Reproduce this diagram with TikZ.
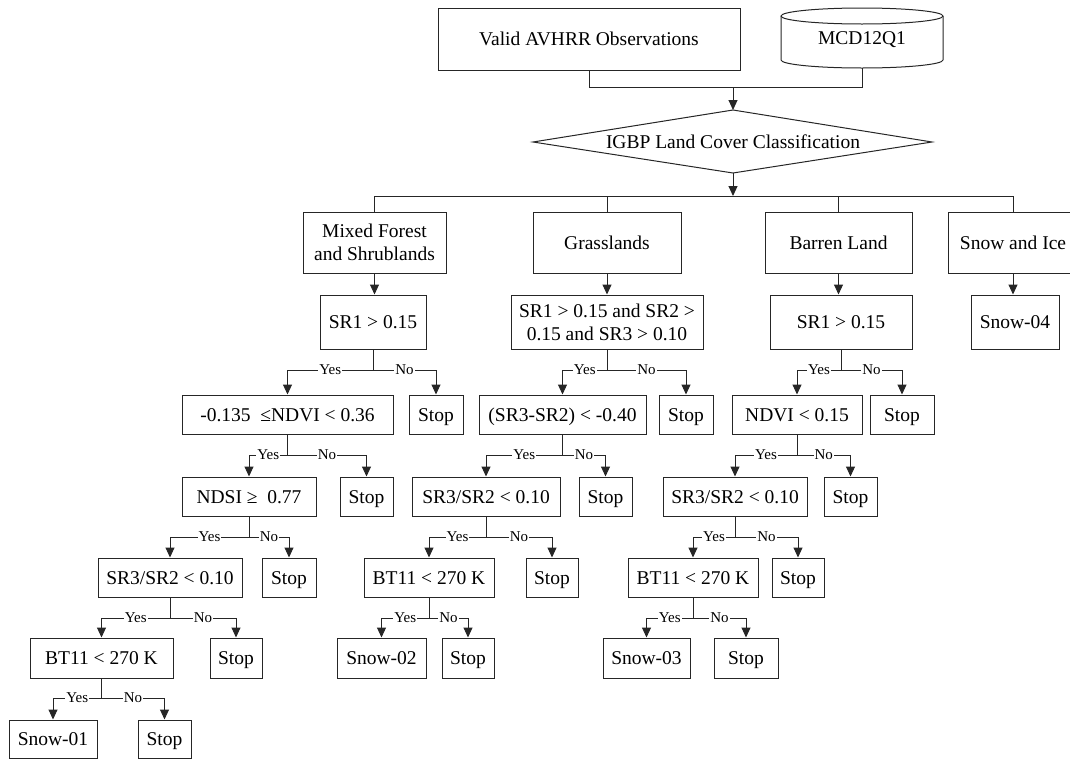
\documentclass[tikz,border=0pt]{standalone}
\usepackage{fontspec}
\setmainfont{Liberation Serif}
\usetikzlibrary{arrows.meta}
\newcommand\mkbox[6]{\node[box, minimum width=#4, minimum height=#5] (#1) at (#2,#3) {#6};}
\newcommand\ynsplit[4]{%
  \draw[ln] (#1.south) -- (#1.south |- 0,#4);
  \draw[ln,arr] (#1.south |- 0,#4) -| node[pos=0.25,yn]{Yes} (#2.north);
  \draw[ln,arr] (#1.south |- 0,#4) -| node[pos=0.25,yn]{No} (#3.north);
}
\begin{document}
\begin{tikzpicture}[x=1pt,y=-1pt,
  ln/.style={line width=1pt, draw=black!85},
  txt/.style={font=\fontsize{19.5}{23}\selectfont},
  box/.style={draw=black!85, line width=1pt, rectangle, inner sep=2pt, txt, align=center, text height=13pt, text depth=0pt},
  twoline/.style={text height=, text depth=},
  yn/.style={fill=white, inner sep=1pt, font=\fontsize{15}{15}\selectfont},
  arr/.style={-{Triangle[length=10pt,width=9pt]}}
]
\useasboundingbox (0,0) rectangle (1070,758);
% top
\mkbox{valid}{589}{39}{302}{62}{Valid AVHRR Observations}
\node[minimum width=162, minimum height=60, inner sep=0pt, txt, text height=13pt, text depth=0pt] (mcd) at (862,38) {MCD12Q1};
\draw[ln] (781,16) -- (781,60) arc[start angle=180, end angle=360, x radius=81pt, y radius=8pt] -- (943,16);
\draw[ln] (862,16) ellipse [x radius=81pt, y radius=8pt];
% diamond
\coordinate (igbpT) at (733,110);
\coordinate (igbpB) at (733,173);
\coordinate (igbpL) at (533,142);
\coordinate (igbpR) at (932,142);
\draw[ln] (igbpL) -- (igbpT) -- (igbpR) -- (igbpB) -- cycle;
\node[txt, inner sep=0pt, text height=13pt, text depth=0pt] (igbp) at (733,142) {IGBP Land Cover Classification};
\coordinate (join) at (733,87);
\draw[ln] (valid.south) -- (valid.south |- join) -| (mcd.south);
\draw[ln,arr] (join) -- (igbpT);
\coordinate (bus) at (733,196);
\draw[ln,arr] (igbpB) -- (bus);
% categories
\node[box, twoline, minimum width=143, minimum height=61] (mf) at (374.5,242.5) {Mixed Forest\\and Shrublands};
\mkbox{gr}{607}{242.5}{148}{61}{Grasslands}
\mkbox{bl}{838.5}{242.5}{147}{61}{Barren Land}
\mkbox{si}{1013}{242.5}{130}{61}{Snow and Ice}
\draw[ln] (mf.north) -- (mf.north |- bus) -- (si.north |- bus) -- (si.north);
\draw[ln] (gr.north |- bus) -- (gr.north);
\draw[ln] (bl.north |- bus) -- (bl.north);
% level 2
\mkbox{mfa}{373}{322}{106}{54}{SR1 {>} 0.15}
\node[box, twoline, minimum width=192, minimum height=54] (gra) at (607,322) {SR1 {>} 0.15 and SR2 {>}\\0.15 and SR3 {>} 0.10};
\mkbox{bla}{841}{322}{142}{54}{SR1 {>} 0.15}
\mkbox{sia}{1015}{322}{88}{54}{Snow-04}
\foreach \p/\c in {mf/mfa, gr/gra, bl/bla, si/sia}{
  \draw[ln,arr] (\p.south) -- (\p.south |- \c.north);
}
% level 3
\mkbox{mfb}{287.5}{414.5}{211}{39}{-0.135 \ ≤NDVI {<} 0.36}
\mkbox{mfbs}{436}{414.5}{54}{39}{Stop}
\mkbox{grb}{562.5}{414.5}{167}{39}{(SR3-SR2) {<} -0.40}
\mkbox{grbs}{686}{414.5}{54}{39}{Stop}
\mkbox{blb}{797}{414.5}{130}{39}{NDVI {<} 0.15}
\mkbox{blbs}{902}{414.5}{64}{39}{Stop}
\ynsplit{mfa}{mfb}{mfbs}{370}
\ynsplit{gra}{grb}{grbs}{370}
\ynsplit{bla}{blb}{blbs}{370}
% level 4
\mkbox{mfc}{249}{496.5}{134}{39}{NDSI ≥ \ 0.77}
\mkbox{mfcs}{366.5}{496.5}{53}{39}{Stop}
\mkbox{grc}{486}{496.5}{148}{39}{SR3/SR2 {<} 0.10}
\mkbox{grcs}{605.5}{496.5}{53}{39}{Stop}
\mkbox{blc}{735}{496.5}{144}{39}{SR3/SR2 {<} 0.10}
\mkbox{blcs}{850.5}{496.5}{53}{39}{Stop}
\ynsplit{mfb}{mfc}{mfcs}{455}
\ynsplit{grb}{grc}{grcs}{455}
\ynsplit{blb}{blc}{blcs}{455}
% level 5
\mkbox{mfd}{170}{577.5}{144}{39}{SR3/SR2 {<} 0.10}
\mkbox{mfds}{289}{577.5}{54}{39}{Stop}
\mkbox{grd}{429}{577.5}{130}{39}{BT11 {<} 270 K}
\mkbox{grds}{552}{577.5}{52}{39}{Stop}
\mkbox{bld}{693}{577.5}{130}{39}{BT11 {<} 270 K}
\mkbox{blds}{798}{577.5}{52}{39}{Stop}
\ynsplit{mfc}{mfd}{mfds}{537}
\ynsplit{grc}{grd}{grds}{537}
\ynsplit{blc}{bld}{blds}{537}
% level 6
\mkbox{mfe}{101.5}{658}{143}{40}{BT11 {<} 270 K}
\mkbox{mfes}{236}{658}{52}{40}{Stop}
\mkbox{gre}{381.5}{658}{89}{40}{Snow-02}
\mkbox{gres}{468}{658}{52}{40}{Stop}
\mkbox{ble}{646.5}{658}{87}{40}{Snow-03}
\mkbox{bles}{746}{658}{64}{40}{Stop}
\ynsplit{mfd}{mfe}{mfes}{618}
\ynsplit{grd}{gre}{gres}{618}
\ynsplit{bld}{ble}{bles}{618}
% level 7
\mkbox{mff}{53}{739}{88}{38}{Snow-01}
\mkbox{mffs}{164.5}{739}{53}{38}{Stop}
\ynsplit{mfe}{mff}{mffs}{698}
\end{tikzpicture}
\end{document}
